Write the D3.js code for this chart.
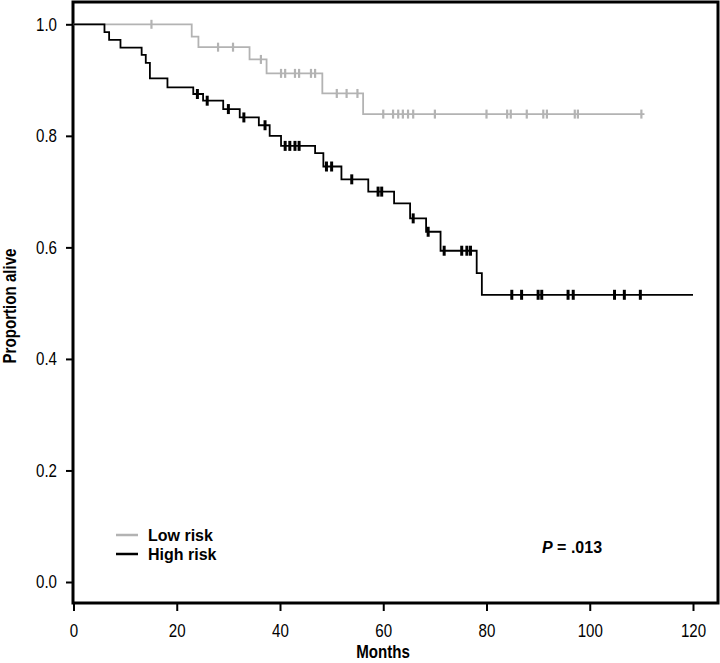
<!DOCTYPE html>
<html>
<head>
<meta charset="utf-8">
<script src="https://cdn.jsdelivr.net/npm/d3@7"></script>
<style>
  html, body { margin: 0; padding: 0; background: #fff; }
  svg { display: block; }
</style>
</head>
<body>
<svg id="chart" width="720" height="663"></svg>
<script>
// ---- data ----
const xTicks = [0, 20, 40, 60, 80, 100, 120];
const yTicks = [0.0, 0.2, 0.4, 0.6, 0.8, 1.0];

const lowTimes = [0, 22.9, 24.2, 34.1, 37.4, 48.2, 56.1];
const lowSurv  = [1.0, 0.978, 0.959, 0.937, 0.912, 0.876, 0.839];
const lowCensor = [15.1, 28.0, 30.9, 36.3, 40.2, 41.0, 42.9, 43.7, 46.0, 46.8, 51.0, 52.9, 55.0,
                   60.0, 61.9, 62.9, 63.8, 64.8, 65.8, 70.0, 80.0, 84.0, 84.7, 87.8, 91.0, 91.7,
                   97.1, 97.7, 110.0];
const lowEnd = 110.6;

const highTimes = [0, 6.0, 6.9, 9.1, 13.2, 14.0, 14.8, 18.2, 23.2, 25.1, 29.0, 32.2, 35.9, 38.0,
                   40.2, 46.8, 48.4, 51.9, 57.1, 62.1, 65.2, 68.3, 71.1, 78.1, 79.1];
const highSurv  = [1.0, 0.986, 0.972, 0.958, 0.945, 0.931, 0.903, 0.887, 0.875, 0.863, 0.848, 0.833,
                   0.819, 0.800, 0.782, 0.769, 0.745, 0.722, 0.700, 0.679, 0.652, 0.628, 0.594,
                   0.554, 0.515];
const highCensor = [24.0, 25.9, 30.0, 33.0, 37.1, 41.0, 41.9, 42.9, 43.7, 49.0, 50.0, 53.9, 59.0,
                    59.7, 65.8, 68.7, 71.8, 75.2, 76.2, 76.9, 84.9, 86.8, 90.0, 90.7, 95.8, 96.8,
                    104.8, 106.7, 109.8];
const highEnd = 120;

const groups = ["Low risk", "High risk"];
const groupColors = ["#b3b3b3", "#000000"];
const pLabel = ".013";

// ---- drawing ----
const svg = d3.select("#chart");
const x = d3.scaleLinear().domain([0, 120]).range([73.5, 693]);
const y = d3.scaleLinear().domain([0, 1]).range([582, 24.3]);

const tickFont = "'Liberation Sans', Arial, sans-serif";
const narrow = 0.84;

// frame
svg.append("rect")
  .attr("x", 73).attr("y", 2).attr("width", 645).attr("height", 601)
  .attr("fill", "none").attr("stroke", "#000").attr("stroke-width", 3);

// y axis
const yAxis = svg.append("g").attr("transform", "translate(73,0)")
  .call(d3.axisLeft(y).tickValues(yTicks).tickFormat(d3.format(".1f")).tickSize(7).tickPadding(6));
yAxis.select(".domain").remove();
yAxis.selectAll("line").attr("stroke-width", 2);
yAxis.selectAll("text")
  .attr("font-family", tickFont).attr("font-size", 18).attr("fill", "#000")
  .attr("x", -16 / narrow)
  .attr("transform", `scale(${narrow},1)`);

// x axis
const xAxis = svg.append("g").attr("transform", "translate(0,603)")
  .call(d3.axisBottom(x).tickValues(xTicks).tickFormat(d3.format("d")).tickSize(8).tickPadding(13));
xAxis.select(".domain").remove();
xAxis.selectAll("line").attr("stroke-width", 2);
xAxis.selectAll(".tick text")
  .attr("font-family", tickFont).attr("font-size", 18).attr("fill", "#000")
  .attr("transform", `scale(${narrow},1)`);

// axis titles
svg.append("text")
  .attr("transform", `translate(383,658) scale(${narrow},1)`)
  .attr("text-anchor", "middle")
  .attr("font-family", tickFont).attr("font-weight", "bold").attr("font-size", 18)
  .text("Months");
svg.append("text")
  .attr("transform", `translate(16,306) rotate(-90) scale(${narrow},1)`)
  .attr("text-anchor", "middle")
  .attr("font-family", tickFont).attr("font-weight", "bold").attr("font-size", 18)
  .text("Proportion alive");

// KM curves
function stepAt(times, surv, t) {
  let s = surv[0];
  for (let i = 0; i < times.length; i++) if (times[i] <= t) s = surv[i];
  return s;
}
function drawCurve(times, surv, censor, end, color, lw, cw, ch) {
  const pts = times.map((t, i) => [t, surv[i]]);
  pts.push([end, surv[surv.length - 1]]);
  const line = d3.line().x(d => x(d[0])).y(d => y(d[1])).curve(d3.curveStepAfter);
  svg.append("path").datum(pts)
    .attr("fill", "none").attr("stroke", color).attr("stroke-width", lw)
    .attr("d", line);
  svg.append("g").selectAll("line").data(censor).join("line")
    .attr("x1", d => x(d)).attr("x2", d => x(d))
    .attr("y1", d => y(stepAt(times, surv, d)) - ch / 2)
    .attr("y2", d => y(stepAt(times, surv, d)) + ch / 2)
    .attr("stroke", color).attr("stroke-width", cw);
}
drawCurve(lowTimes, lowSurv, lowCensor, lowEnd, groupColors[0], 1.8, 2.2, 9);
drawCurve(highTimes, highSurv, highCensor, highEnd, groupColors[1], 1.8, 3, 10);

// legend
const legendY = [535, 554];
groups.forEach((g, i) => {
  svg.append("line")
    .attr("x1", 116).attr("x2", 138).attr("y1", legendY[i]).attr("y2", legendY[i])
    .attr("stroke", groupColors[i]).attr("stroke-width", 2.5);
  svg.append("text")
    .attr("x", 148).attr("y", legendY[i] + 6)
    .attr("font-family", "'Liberation Sans', Arial, sans-serif")
    .attr("font-weight", "bold").attr("font-size", 16)
    .text(g);
});

// P value
const pText = svg.append("text")
  .attr("x", 542).attr("y", 553)
  .attr("font-family", "'Liberation Sans', Arial, sans-serif")
  .attr("font-weight", "bold").attr("font-size", 16);
pText.append("tspan").attr("font-style", "italic").text("P");
pText.append("tspan").text(" = " + pLabel);
</script>
</body>
</html>
